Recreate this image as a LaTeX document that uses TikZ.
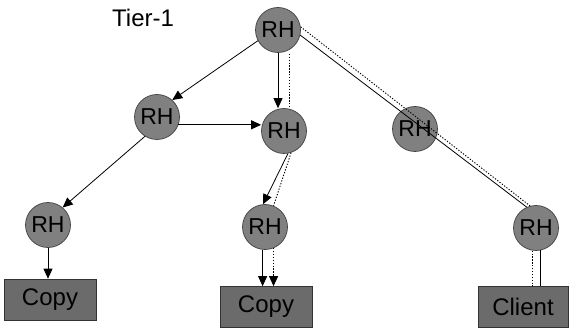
\documentclass[tikz,border=0pt]{standalone}
\usepackage{fontspec}
\setmainfont{Liberation Sans}
\usetikzlibrary{arrows.meta,calc}

\tikzset{
  rh/.style={circle, draw=black!75, line width=0.7pt, fill=black!50,
    minimum size=45pt, inner sep=0pt, font=\fontsize{23}{25}\selectfont},
  box/.style={rectangle, draw=black!80, line width=0.7pt, fill=black!58,
    minimum width=92pt, minimum height=41pt, inner sep=0pt,
    font=\fontsize{24}{26}\selectfont},
  link/.style={line width=0.8pt, black},
  trace/.style={line width=0.9pt, black, dash pattern=on 1.3pt off 1.6pt},
  tip/.style={-{Triangle[length=10pt,width=9pt]}},
}

\begin{document}
\begin{tikzpicture}[x=1pt, y=-1pt]
  \useasboundingbox (0,0) rectangle (569,328);

  % label
  \node[anchor=base west, inner sep=0pt, font=\fontsize{24}{26}\selectfont]
    (tier) at (112,27) {Tier-1};

  % relay hosts
  \node[rh] (T)  at (278,30)  {RH};
  \node[rh] (A)  at (157,117) {RH};
  \node[rh] (M)  at (284,131) {RH};
  \node[rh] (R)  at (415,129) {RH};
  \node[rh] (BL) at (48,225)  {RH};
  \node[rh] (BM) at (265,227) {RH};
  \node[rh] (BR) at (536,228) {RH};

  % end points
  \node[box] (CL) at (50,299.5) {Copy};
  \node[box] (CM) at (266,307)  {Copy};
  \node[box, minimum width=90pt] (CC) at (523,307) {Client};

  % left subtree
  \draw[link, tip] (T.-152) -- (A.48);
  \draw[link, tip] (T.south) -- (T.south |- M.north);
  \draw[trace] ($(T.south)+(11,1)$) -- ($(M.north)+(5,0.6)$);
  \draw[link, tip] (A.-20) -- (A.-20 -| M.west);
  \draw[link, tip] (A.-122) -- (BL.50);
  \draw[link, tip] (BL.south) -- (BL.south |- CL.north);

  % middle path
  \draw[link, tip] (M.-80) -- (BM.95);
  \draw[trace] (M.-72) -- (BM.68);
  \draw[link, tip] (BM.-96) -- (BM.-96 |- CM.north);
  \draw[trace, tip] (BM.-68) -- (BM.-68 |- CM.north);

  % right path to the client
  \draw[link] (T.-13) -- (BR.114);
  \draw[trace] (T.8) -- (BR.105);
  \draw[link] (BR.-78) -- (BR.-78 |- CC.north);
  \draw[trace] (BR.-98) -- (BR.-98 |- CC.north);
\end{tikzpicture}
\end{document}
